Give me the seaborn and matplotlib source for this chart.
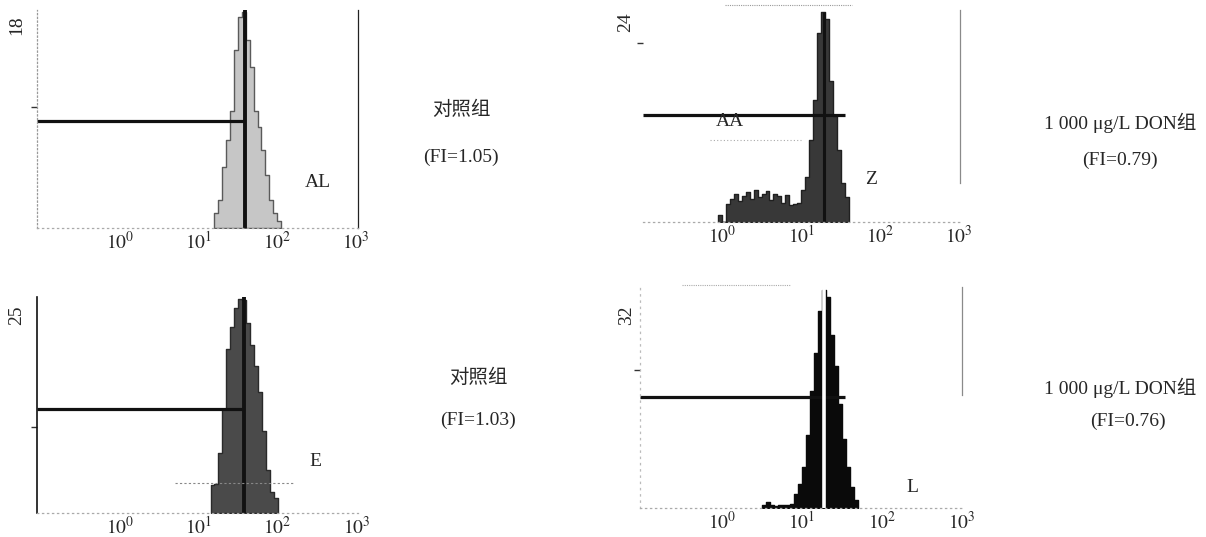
import matplotlib
matplotlib.use('Agg')
import matplotlib.pyplot as plt
import seaborn as sns
import numpy as np

sns.set_style('white')
plt.rcParams['font.family'] = ['Liberation Serif', 'Noto Sans CJK SC']
plt.rcParams['mathtext.fontset'] = 'stix'

# histogram data: counts per 0.05-decade bin (x axis in log10 fluorescence units)
bin_w = 0.05

al_start = 1.20
al_counts = [1.2, 2.3, 5.0, 7.3, 9.7, 14.7, 17.4, 17.8, 15.5, 13.3, 9.7, 8.3, 6.4, 4.4, 2.3, 1.2, 0.6]

z_start = -0.05
z_counts = [0.8, 0.0, 2.0, 2.6, 3.2, 2.4, 3.0, 3.4, 2.6, 3.6, 2.8, 3.2, 3.5, 2.5, 3.2, 3.0, 2.2,
            3.1, 1.9, 2.0, 2.1, 3.6, 5.1, 9.3, 13.8, 21.4, 23.8, 23.0, 16.0, 12.0, 8.2, 4.4, 2.8]

e_start = 1.15
e_counts = [3.2, 3.4, 7.0, 12.0, 19.0, 21.5, 23.7, 24.8, 24.6, 22.0, 19.4, 17.0, 14.0, 9.5, 5.0, 2.4, 1.7]

l_start = 0.50
l_counts = [0.5, 0.8, 0.4, 0.3, 0.5, 0.4, 0.5, 0.6, 2.0, 3.5, 6.0, 10.5, 17.0, 22.5, 28.5, 31.5,
            30.5, 25.0, 20.5, 15.0, 10.0, 6.0, 3.0, 1.2]

# y-axis maxima, marker positions (log10), region lines
y_max = [18, 24, 25, 32]
marker_x = [1.59, 1.29, 1.57, 1.275]
region_end = [1.59, 1.56, 1.57, 1.54]
region_y = [8.8, 12.1, 12.0, 16.1]
left_tick = [10, 20.3, 10, 20]
region_names = ['AL', 'Z', 'E', 'L']
group_names = ['对照组', '1 000 μg/L DON组', '对照组', '1 000 μg/L DON组']
fi_labels = ['(FI=1.05)', '(FI=0.79)', '(FI=1.03)', '(FI=0.76)']

tick_vals = [0, 1, 2, 3]
tick_text = ['$10^{0}$', '$10^{1}$', '$10^{2}$', '$10^{3}$']

W, H = 1206, 537
fig = plt.figure(figsize=(W / 100, H / 100), dpi=100)


def px_axes(l, t, r, b):
    return fig.add_axes([l / W, 1 - b / H, (r - l) / W, (b - t) / H])


def ftext(x, y, s, **kw):
    kw.setdefault('fontsize', 14)
    fig.text(x / W, 1 - y / H, s, ha='center', va='center', **kw)


def histo(ax, start, counts, color, edge, ymax, xlim):
    counts = np.asarray(counts)
    n = len(counts)
    centers = start + bin_w * (np.arange(n) + 0.5)
    sns.histplot(x=centers, weights=counts, bins=n, binrange=(start, start + n * bin_w),
                 element='step', fill=True, color=color, alpha=1,
                 edgecolor=edge, linewidth=1.0, ax=ax)
    ax.set_xlim(*xlim)
    ax.set_ylim(0, ymax)
    ax.set_xticks(tick_vals)
    ax.set_xticklabels(tick_text, fontsize=14)
    ax.tick_params(axis='x', length=0, pad=2)
    ax.set_xlabel('')
    ax.set_ylabel('')
    ax.spines['top'].set_visible(False)
    for s in ax.spines.values():
        s.set_linewidth(0.9)


panels = [
    (px_axes(37, 10, 358, 228), al_start, al_counts, '#c6c6c6', '#5a5a5a', (-1.06, 3.03)),
    (px_axes(643, 10, 960, 222), z_start, z_counts, '#383838', '#202020', (-1.00, 3.01)),
    (px_axes(37, 297, 358, 513), e_start, e_counts, '#4a4a4a', '#2a2a2a', (-1.05, 3.02)),
    (px_axes(640, 287, 962, 508), l_start, l_counts, '#0a0a0a', '#0a0a0a', (-1.025, 3.0)),
]

axes = []
for i, (ax, start, counts, color, edge, xl) in enumerate(panels):
    histo(ax, start, counts, color, edge, y_max[i], xl)
    ax.set_yticks([left_tick[i]])
    ax.set_yticklabels([])
    ax.tick_params(axis='y', left=True, length=4, width=1, color='#333333')
    ax.spines['bottom'].set_color('#aaaaaa')
    ax.spines['bottom'].set_linestyle((0, (1, 3)))
    ax.plot([xl[0], region_end[i]], [region_y[i], region_y[i]], color='#111111', lw=2.3,
            solid_capstyle='butt')
    axes.append(ax)

a1, a2, a3, a4 = axes

# panel 1: light histogram, dotted left axis, solid right axis
a1.spines['left'].set_color('#999999')
a1.spines['left'].set_linestyle((0, (1, 2)))
a1.spines['right'].set_color('#222222')
a1.vlines(marker_x[0], 0, y_max[0], color='#111111', lw=2.8)

# panel 2
a2.spines['left'].set_visible(False)
a2.spines['right'].set_color('#8a8a8a')
a2.spines['right'].set_bounds(4.4, 24)
a2.vlines(marker_x[1], 0, 23.8, color='#111111', lw=2.2)
a2.plot([-0.15, 1.0], [9.3, 9.3], color='#aaaaaa', lw=0.8, ls=(0, (1, 2)))
a2.plot([0.04, 1.65], [24.6, 24.6], color='#999999', lw=0.8, ls=(0, (1, 1)), clip_on=False)

# panel 3
a3.spines['left'].set_color('#111111')
a3.spines['left'].set_linewidth(1.2)
a3.spines['right'].set_visible(False)
a3.vlines(marker_x[2], 0, y_max[2], color='#111111', lw=2.8)
a3.plot([0.70, 2.2], [3.5, 3.5], color='#888888', lw=0.8, ls=(0, (2, 2)))

# panel 4
a4.spines['left'].set_color('#bbbbbb')
a4.spines['left'].set_linestyle((0, (1, 4)))
a4.spines['right'].set_color('#8a8a8a')
a4.spines['right'].set_bounds(16.4, 32)
a4.vlines(marker_x[3], 0, y_max[3], color='white', lw=2.6)
a4.plot([-0.5, 0.85], [32.3, 32.3], color='#aaaaaa', lw=0.8, ls=(0, (1, 1)), clip_on=False)

# y-axis maxima labels
for (x, y), v in zip([(17, 25), (626, 22), (17, 315), (627, 315)], y_max):
    ftext(x, y, str(v), rotation=90)

# region labels
ftext(318, 183, region_names[0])
ftext(730, 122, 'AA')
ftext(871, 180, region_names[1])
ftext(315, 462, region_names[2])
ftext(912, 488, region_names[3])

# group annotations
ftext(461, 110, group_names[0])
ftext(461, 157, fi_labels[0])
ftext(1120, 123, group_names[1])
ftext(1120, 160, fi_labels[1])
ftext(478, 378, group_names[2])
ftext(478, 420, fi_labels[2])
ftext(1120, 388, group_names[3])
ftext(1128, 421, fi_labels[3])

fig.savefig('out.png', dpi=100)
